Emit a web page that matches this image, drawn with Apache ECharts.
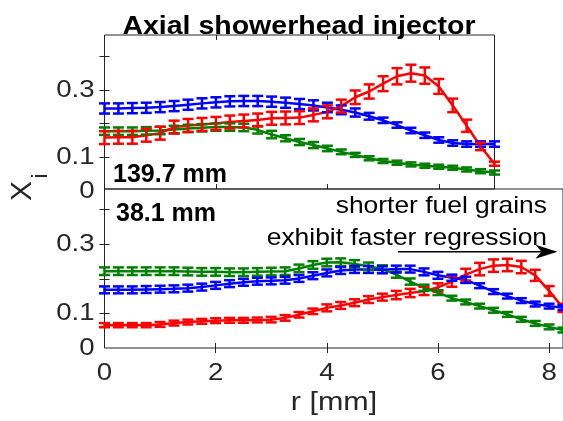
<!DOCTYPE html>
<html>
<head>
<meta charset="utf-8">
<script src="https://cdn.jsdelivr.net/npm/echarts@6/dist/echarts.min.js"></script>
<style>
  html, body { margin: 0; padding: 0; background: #ffffff; }
  #chart { width: 563px; height: 421px; }
</style>
</head>
<body>
<div id="chart"></div>
<script>
// Radial positions (mm)
const rTop = [0, 0.25, 0.5, 0.75, 1, 1.25, 1.5, 1.75, 2, 2.25, 2.5, 2.75, 3, 3.25, 3.5,
  3.75, 4, 4.25, 4.5, 4.75, 5, 5.25, 5.5, 5.75, 6, 6.25, 6.5, 6.75, 7];
const rBottom = [0, 0.25, 0.5, 0.75, 1, 1.25, 1.5, 1.75, 2, 2.25, 2.5, 2.75, 3, 3.25, 3.5,
  3.75, 4, 4.25, 4.5, 4.75, 5, 5.25, 5.5, 5.75, 6, 6.25, 6.5, 6.75, 7, 7.25, 7.5, 7.75, 8, 8.25];

// 139.7 mm grain: mole fractions and half-widths of the error bars
const topRed = [0.159, 0.160, 0.160, 0.166, 0.172, 0.190, 0.195, 0.198, 0.201, 0.205, 0.208, 0.211,
  0.216, 0.217, 0.218, 0.226, 0.235, 0.252, 0.278, 0.295, 0.318, 0.340, 0.349, 0.342, 0.310,
  0.254, 0.194, 0.133, 0.082];
const topRedErr = [0.019, 0.019, 0.019, 0.019, 0.019, 0.019, 0.019, 0.019, 0.019, 0.019, 0.019,
  0.019, 0.019, 0.019, 0.019, 0.019, 0.019, 0.019, 0.020, 0.021, 0.022, 0.024, 0.025, 0.024,
  0.022, 0.020, 0.018, 0.011, 0.006];
const topBlue = [0.245, 0.245, 0.246, 0.247, 0.249, 0.252, 0.256, 0.260, 0.263, 0.266, 0.267,
  0.267, 0.265, 0.262, 0.258, 0.254, 0.248, 0.241, 0.233, 0.222, 0.210, 0.196, 0.180, 0.166,
  0.152, 0.143, 0.140, 0.140, 0.140];
const topBlueErr = [0.015, 0.015, 0.015, 0.015, 0.015, 0.015, 0.015, 0.015, 0.015, 0.015, 0.015,
  0.015, 0.015, 0.015, 0.015, 0.015, 0.014, 0.013, 0.012, 0.010, 0.008, 0.008, 0.008, 0.008,
  0.008, 0.008, 0.008, 0.008, 0.008];
const topGreen = [0.178, 0.178, 0.178, 0.179, 0.180, 0.183, 0.186, 0.188, 0.190, 0.190, 0.189,
  0.182, 0.168, 0.157, 0.146, 0.137, 0.127, 0.117, 0.108, 0.098, 0.090, 0.085, 0.080, 0.076,
  0.073, 0.070, 0.065, 0.060, 0.056];
const topGreenErr = [0.011, 0.011, 0.011, 0.011, 0.011, 0.011, 0.011, 0.011, 0.011, 0.011, 0.011,
  0.011, 0.011, 0.009, 0.009, 0.009, 0.008, 0.007, 0.006, 0.006, 0.006, 0.006, 0.006, 0.006,
  0.006, 0.006, 0.006, 0.006, 0.006];

// 38.1 mm grain
const botRed = [0.066, 0.066, 0.066, 0.066, 0.068, 0.072, 0.075, 0.077, 0.079, 0.080, 0.080,
  0.081, 0.082, 0.087, 0.096, 0.106, 0.116, 0.123, 0.131, 0.140, 0.147, 0.153, 0.159, 0.165,
  0.175, 0.192, 0.212, 0.228, 0.238, 0.240, 0.234, 0.210, 0.165, 0.116];
const botRedErr = [0.006, 0.006, 0.006, 0.006, 0.007, 0.007, 0.007, 0.007, 0.007, 0.007, 0.007,
  0.007, 0.008, 0.008, 0.008, 0.008, 0.010, 0.010, 0.010, 0.010, 0.010, 0.012, 0.012, 0.012,
  0.012, 0.015, 0.017, 0.018, 0.018, 0.018, 0.018, 0.016, 0.014, 0.012];
const botBlue = [0.168, 0.168, 0.168, 0.169, 0.170, 0.171, 0.173, 0.176, 0.181, 0.186, 0.190,
  0.193, 0.194, 0.196, 0.201, 0.209, 0.217, 0.224, 0.227, 0.227, 0.226, 0.228, 0.228, 0.220,
  0.210, 0.203, 0.197, 0.180, 0.163, 0.150, 0.137, 0.127, 0.121, 0.117];
const botBlueErr = [0.010, 0.010, 0.010, 0.010, 0.010, 0.010, 0.010, 0.010, 0.010, 0.010, 0.010,
  0.010, 0.010, 0.010, 0.010, 0.010, 0.010, 0.010, 0.010, 0.010, 0.010, 0.010, 0.010, 0.010,
  0.010, 0.009, 0.009, 0.007, 0.007, 0.007, 0.007, 0.007, 0.007, 0.007];
const botGreen = [0.222, 0.222, 0.222, 0.222, 0.222, 0.222, 0.221, 0.220, 0.220, 0.219, 0.219,
  0.220, 0.221, 0.222, 0.230, 0.240, 0.247, 0.248, 0.243, 0.236, 0.228, 0.212, 0.192, 0.174,
  0.160, 0.144, 0.133, 0.121, 0.109, 0.097, 0.083, 0.071, 0.061, 0.052];
const botGreenErr = [0.011, 0.011, 0.011, 0.011, 0.011, 0.011, 0.011, 0.011, 0.011, 0.011, 0.011,
  0.011, 0.011, 0.011, 0.011, 0.011, 0.011, 0.011, 0.011, 0.011, 0.011, 0.009, 0.009, 0.009,
  0.007, 0.007, 0.007, 0.007, 0.007, 0.007, 0.007, 0.007, 0.007, 0.007];

// Axis ticks and tick labels
const xTickValues = [2, 4, 6, 8];
const xLabelValues = [0, 2, 4, 6, 8];
const yTickValues = [0.1, 0.2, 0.3, 0.4];
const yLabelValues = [0, 0.1, 0.3];

const RED = '#ff0000', BLUE = '#0000ff', GREEN = '#008000';
const AX = '#262626';
const FONT = "'Liberation Sans', Arial, Helvetica, sans-serif";
const LW = 2.5;

const chart = echarts.init(document.getElementById('chart'), null, { renderer: 'canvas' });

function lineSeries(color, xi, yi, r, v) {
  return {
    type: 'line', xAxisIndex: xi, yAxisIndex: yi,
    data: r.map((x, i) => [x, v[i]]),
    showSymbol: false, symbol: 'none', smooth: false,
    lineStyle: { color: color, width: LW },
    silent: true, animation: false, z: 3
  };
}

function errorSeries(color, xi, yi, r, v, e) {
  return {
    type: 'custom', xAxisIndex: xi, yAxisIndex: yi,
    data: r.map((x, i) => [x, v[i] - e[i], v[i] + e[i]]),
    encode: { x: 0, y: [1, 2] },
    clip: false, silent: true, animation: false, z: 4,
    renderItem: function (params, api) {
      const lo = api.coord([api.value(0), api.value(1)]);
      const hi = api.coord([api.value(0), api.value(2)]);
      const w = 5.5;
      const st = { stroke: color, lineWidth: LW };
      return {
        type: 'group',
        children: [
          { type: 'line', shape: { x1: lo[0], y1: lo[1], x2: hi[0], y2: hi[1] }, style: st },
          { type: 'line', shape: { x1: lo[0] - w, y1: lo[1], x2: lo[0] + w, y2: lo[1] }, style: st },
          { type: 'line', shape: { x1: hi[0] - w, y1: hi[1], x2: hi[0] + w, y2: hi[1] }, style: st }
        ]
      };
    }
  };
}

const tickStyle = { show: true, inside: true, length: 5, lineStyle: { color: AX, width: 1 } };

function xAxisDef(grid, position, max) {
  return {
    type: 'value', gridIndex: grid, position: position, min: 0, max: max,
    axisLine: { show: false }, splitLine: { show: false },
    axisTick: Object.assign({}, tickStyle, { customValues: xTickValues.filter(v => v < max) }),
    axisLabel: { show: false }
  };
}

function yAxisDef(grid, position, min, max) {
  return {
    type: 'value', gridIndex: grid, position: position, min: min, max: max,
    axisLine: { show: false }, splitLine: { show: false },
    axisTick: Object.assign({}, tickStyle, { customValues: yTickValues }),
    axisLabel: { show: false }
  };
}

const gridBox = { show: true, borderColor: AX, borderWidth: 1, backgroundColor: 'transparent' };

// Upper panel: its zero line sits just under the lower panel's top edge
chart.setOption({
  animation: false,
  grid: [
    Object.assign({ left: 104.5, top: 35, width: 390, height: 154 }, gridBox),
    Object.assign({ left: 104.5, top: 189, width: 459.6, height: 159 }, gridBox)
  ],
  xAxis: [
    xAxisDef(0, 'bottom', 7),
    xAxisDef(0, 'top', 7),
    xAxisDef(1, 'bottom', 8.25),
    xAxisDef(1, 'top', 8.25)
  ],
  yAxis: [
    yAxisDef(0, 'left', 0.0074, 0.4617),
    yAxisDef(0, 'right', 0.0074, 0.4617),
    yAxisDef(1, 'left', 0, 0.4595),
    yAxisDef(1, 'right', 0, 0.4595)
  ],
  series: [
    lineSeries(GREEN, 0, 0, rTop, topGreen),
    errorSeries(GREEN, 0, 0, rTop, topGreen, topGreenErr),
    lineSeries(BLUE, 0, 0, rTop, topBlue),
    errorSeries(BLUE, 0, 0, rTop, topBlue, topBlueErr),
    lineSeries(RED, 0, 0, rTop, topRed),
    errorSeries(RED, 0, 0, rTop, topRed, topRedErr),

    lineSeries(RED, 2, 2, rBottom, botRed),
    errorSeries(RED, 2, 2, rBottom, botRed, botRedErr),
    lineSeries(GREEN, 2, 2, rBottom, botGreen),
    errorSeries(GREEN, 2, 2, rBottom, botGreen, botGreenErr),
    lineSeries(BLUE, 2, 2, rBottom, botBlue),
    errorSeries(BLUE, 2, 2, rBottom, botBlue, botBlueErr)
  ]
});

function txt(text, x, y, size, opts) {
  opts = opts || {};
  return {
    type: 'text', x: x, y: y, silent: true, z: 10,
    rotation: opts.rotation || 0,
    scaleX: opts.scaleX || 1,
    style: {
      text: text,
      fontFamily: FONT,
      fontSize: size,
      fontWeight: opts.bold ? 'bold' : 'normal',
      fill: opts.color || '#000000',
      align: opts.align || 'center',
      verticalAlign: 'middle'
    }
  };
}

const graphics = [];

// Tick labels, placed through the axes' own scales
const TICK_SIZE = 23, TICK_STRETCH = 1.2;
const fmt = v => (v === 0 ? '0' : v.toFixed(1));
[{ x: 0, y: 0 }, { x: 2, y: 2 }].forEach(function (ax) {
  yLabelValues.forEach(function (v) {
    const p = chart.convertToPixel({ xAxisIndex: ax.x, yAxisIndex: ax.y }, [0, v]);
    graphics.push(txt(fmt(v), p[0] - 10, p[1] + 0.5, TICK_SIZE,
      { color: AX, align: 'right', scaleX: TICK_STRETCH }));
  });
});
xLabelValues.forEach(function (v) {
  const p = chart.convertToPixel({ xAxisIndex: 2, yAxisIndex: 2 }, [v, 0]);
  graphics.push(txt(String(v), p[0], p[1] + 26, TICK_SIZE,
    { color: AX, scaleX: TICK_STRETCH }));
});

// Annotation arrow in the data space of the lower panel
const arrowFrom = chart.convertToPixel({ xAxisIndex: 2, yAxisIndex: 2 }, [5.28, 0.278]);
const arrowTo = chart.convertToPixel({ xAxisIndex: 2, yAxisIndex: 2 }, [8.15, 0.278]);
const headLen = 22, headHalf = 7, notch = 6;

graphics.push(
  txt('Axial showerhead injector', 299, 27, 25, { bold: true, scaleX: 1.14 }),
  txt('139.7 mm', 113, 175, 25, { bold: true, align: 'left' }),
  txt('38.1 mm', 116, 214, 25, { bold: true, align: 'left' }),
  txt('shorter fuel grains', 547, 206, 24, { align: 'right', scaleX: 1.1 }),
  txt('exhibit faster regression', 547, 238, 24, { align: 'right', scaleX: 1.1 }),
  txt('r [mm]', 334, 403, 25, { color: AX, scaleX: 1.22 }),
  txt('X', 23, 191, 30, { color: AX, rotation: Math.PI / 2 }),
  txt('i', 41, 176, 22, { color: AX, rotation: Math.PI / 2 }),
  {
    type: 'line', silent: true, z: 10,
    shape: { x1: arrowFrom[0], y1: arrowFrom[1], x2: arrowTo[0] - headLen + notch, y2: arrowTo[1] },
    style: { stroke: '#000000', lineWidth: 1.5 }
  },
  {
    type: 'polygon', silent: true, z: 10,
    shape: {
      points: [
        [arrowTo[0], arrowTo[1]],
        [arrowTo[0] - headLen, arrowTo[1] - headHalf],
        [arrowTo[0] - headLen + notch, arrowTo[1]],
        [arrowTo[0] - headLen, arrowTo[1] + headHalf]
      ]
    },
    style: { fill: '#000000' }
  }
);

chart.setOption({ graphic: graphics });
</script>
</body>
</html>
